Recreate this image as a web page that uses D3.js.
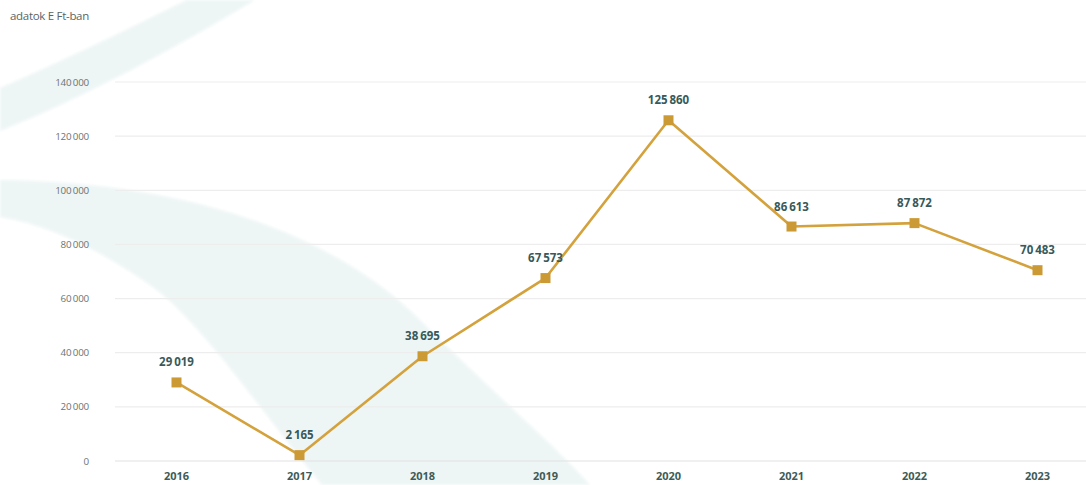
<!DOCTYPE html>
<html><head><meta charset="utf-8">
<script src="https://cdn.jsdelivr.net/npm/d3@7"></script>
<style>
html,body{margin:0;padding:0;background:#fff;}
svg{display:block;font-family:"Open Sans","Lato",sans-serif;}
</style></head>
<body><svg id="c" width="1086" height="485"></svg>
<script>
const years = ["2016","2017","2018","2019","2020","2021","2022","2023"];
const values = [29019, 2165, 38695, 67573, 125860, 86613, 87872, 70483];
const yTicks = [0, 20000, 40000, 60000, 80000, 100000, 120000, 140000];
const unitLabel = "adatok E Ft-ban";

const svg = d3.select("#c");
const W = 1086, H = 485;

// decorative background shapes
const defs = svg.append("defs");
defs.append("filter").attr("id", "soft").append("feGaussianBlur").attr("stdDeviation", 1.5);
const bg = svg.append("g").attr("filter", "url(#soft)");
bg.append("path").attr("fill", "#eef5f5")
  .attr("d", "M187,0 L255,0 C180,45 90,95 0,131 L0,88 C70,58 130,28 187,0 Z");
bg.append("path").attr("fill", "#eef5f5")
  .attr("d", "M0,180 C180,182 330,230 420,320 C490,390 560,450 590,485 L322,485 C260,410 200,320 150,285 C100,250 50,225 0,217 Z");

const x = d3.scaleBand().domain(years).range([115, 1099]);
const y = d3.scaleLinear().domain([0, 140000]).range([461, 82]);
const cx = d => x(d) + x.bandwidth() / 2;

// gridlines
svg.append("g").selectAll("line").data(yTicks).join("line")
  .attr("x1", 115).attr("x2", W)
  .attr("y1", d => y(d)).attr("y2", d => y(d))
  .attr("stroke", d => d === 0 ? "#e2e2e2" : "#ededed").attr("stroke-width", 1.2);

// y axis labels
const yAxis = svg.append("g").attr("transform", "translate(92,0)")
  .call(d3.axisLeft(y).tickValues(yTicks).tickSize(0)
    .tickFormat(d => d3.format(",")(d).replace(/,/g, "\u2009")));
yAxis.select(".domain").remove();
yAxis.selectAll("text").attr("font-size", 9.8).attr("fill", "#6a7474")
  .attr("font-family", "'Open Sans',sans-serif").attr("letter-spacing", -0.2);

// x axis labels
const xAxis = svg.append("g").attr("transform", "translate(0,469)")
  .call(d3.axisBottom(x).tickSize(0));
xAxis.select(".domain").remove();
xAxis.selectAll("text").attr("font-size", 11).attr("font-weight", 700)
  .attr("fill", "#3e5b57").attr("font-family", "'Open Sans',sans-serif");

// title
svg.append("text").attr("x", 10).attr("y", 20).text(unitLabel)
  .attr("font-size", 11.5).attr("fill", "#5a6464").attr("letter-spacing", -0.3);

const data = years.map((yr, i) => ({yr, v: values[i]}));

svg.append("path").datum(data)
  .attr("fill", "none").attr("stroke", "#d4a23c").attr("stroke-width", 2.6)
  .attr("stroke-linejoin", "round")
  .attr("d", d3.line().x(d => cx(d.yr)).y(d => y(d.v)));

svg.append("g").selectAll("rect").data(data).join("rect")
  .attr("x", d => cx(d.yr) - 5).attr("y", d => y(d.v) - 5)
  .attr("width", 10).attr("height", 10).attr("fill", "#cc9a34");

svg.append("g").selectAll("text").data(data).join("text")
  .attr("x", d => cx(d.yr)).attr("y", d => y(d.v) - 16)
  .attr("text-anchor", "middle").attr("font-size", 11.5).attr("font-weight", 700)
  .attr("fill", "#38595a")
  .text(d => d3.format(",")(d.v).replace(/,/g, "\u2009"));
</script></body></html>
